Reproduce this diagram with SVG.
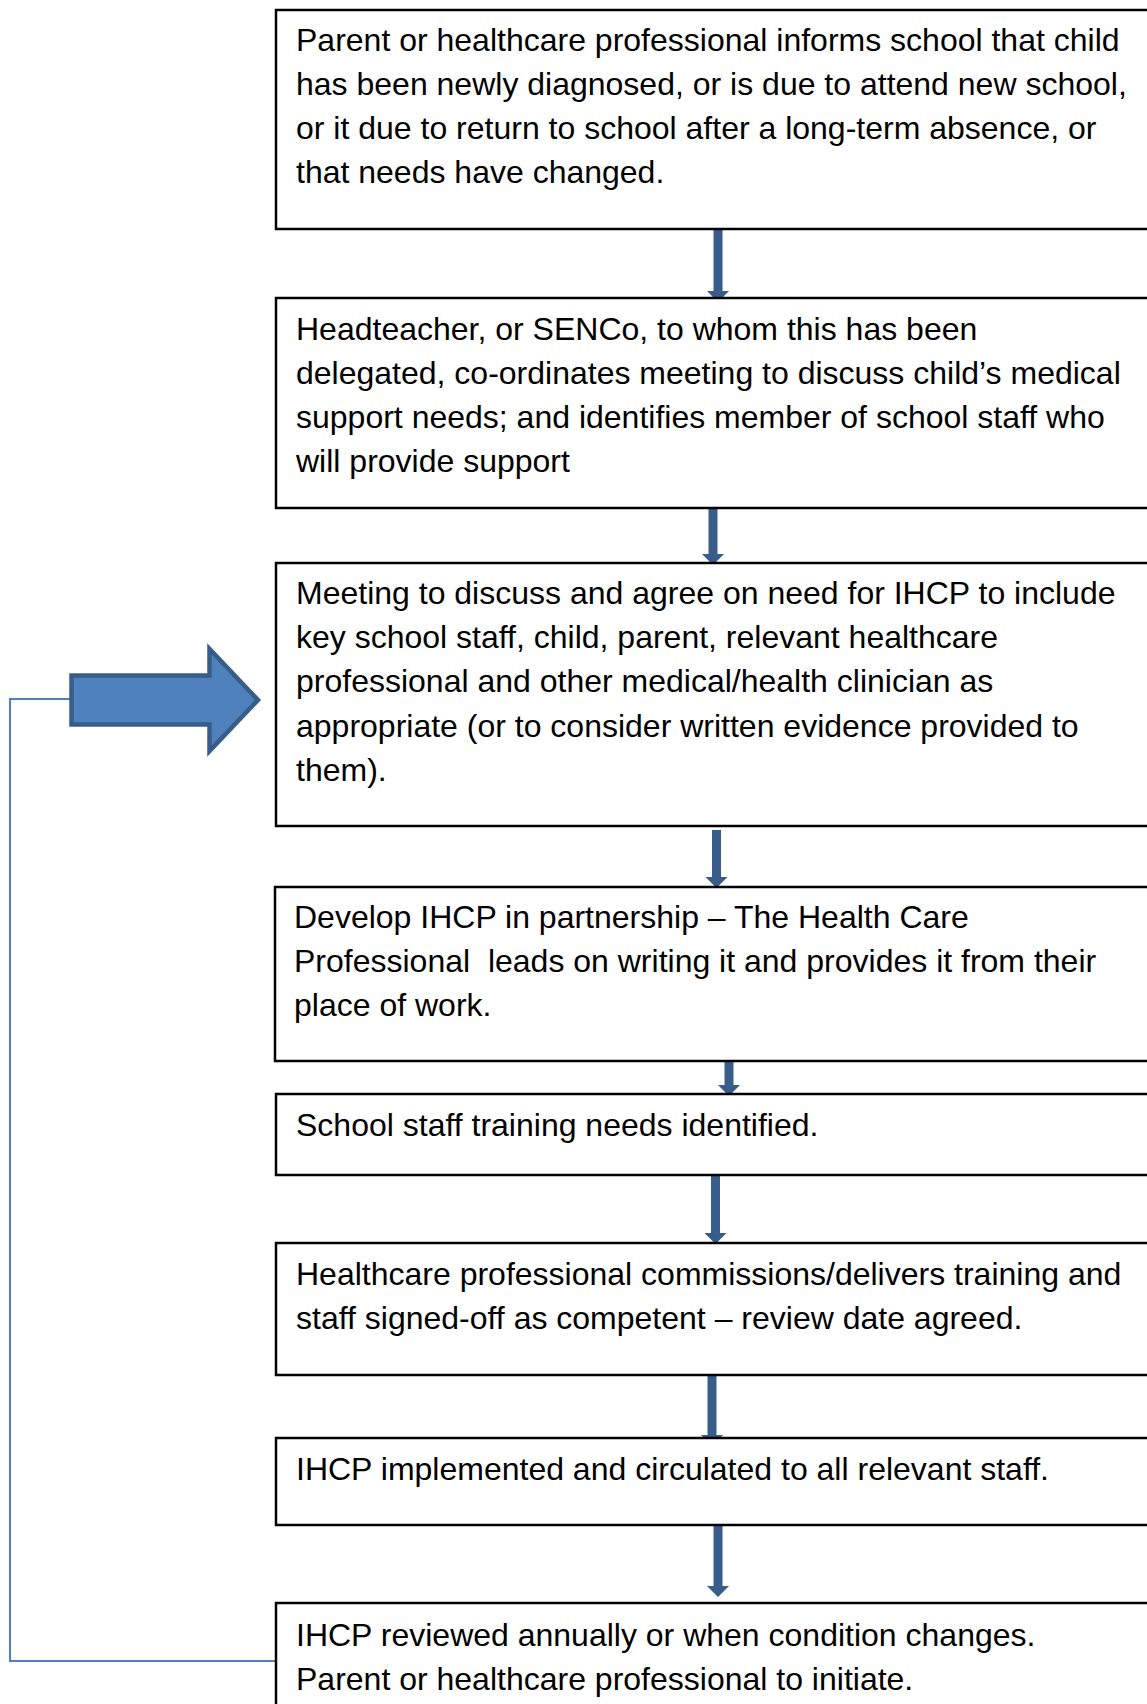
<svg xmlns="http://www.w3.org/2000/svg" width="1147" height="1704" viewBox="0 0 1147 1704">
<style>
.box{fill:#fff;stroke:#000;stroke-width:2.5}
.t{font-family:"Liberation Sans",Arial,sans-serif;font-size:32px;fill:#000;white-space:pre}
.dn{fill:#385D8A}
.big{fill:#4F81BD;stroke:#385D8A;stroke-width:4.5;stroke-linejoin:miter}
.fb{fill:none;stroke:#4F81BD;stroke-width:2}
</style>
<rect width="1147" height="1704" fill="#fff"/>
<g id="connectors">
<polyline class="fb" points="276,1661 10,1661 10,699 71,699"/>
<polygon class="dn" points="713.5,227 722.5,227 722.5,291 729,291 718,302 707,291 713.5,291"/>
<polygon class="dn" points="708.5,508 717.5,508 717.5,554 724,554 713,565 702,554 708.5,554"/>
<polygon class="dn" points="712,830 721,830 721,877 727.5,877 716.5,888 705.5,877 712,877"/>
<polygon class="dn" points="724.5,1059 733.5,1059 733.5,1085 740,1085 729,1096 718,1085 724.5,1085"/>
<polygon class="dn" points="711,1172 720,1172 720,1233 726.5,1233 715.5,1244 704.5,1233 711,1233"/>
<polygon class="dn" points="707.5,1372 716.5,1372 716.5,1435 723,1435 712,1446 701,1435 707.5,1435"/>
<polygon class="dn" points="713.5,1522 722.5,1522 722.5,1586 729,1586 718,1597 707,1586 713.5,1586"/>
<polygon class="big" points="71.5,675.5 209.5,675.5 209.5,649 258,700 209.5,751 209.5,724.5 71.5,724.5"/>
</g>
<g id="n1">
<rect class="box" x="276" y="10" width="890" height="219"/>
<text class="t" x="296" y="51">Parent or healthcare professional informs school that child</text>
<text class="t" x="296" y="95">has been newly diagnosed, or is due to attend new school,</text>
<text class="t" x="296" y="139">or it due to return to school after a long-term absence, or</text>
<text class="t" x="296" y="183">that needs have changed.</text>
</g>
<g id="n2">
<rect class="box" x="276" y="298" width="890" height="210"/>
<text class="t" x="296" y="340">Headteacher, or SENCo, to whom this has been</text>
<text class="t" x="296" y="384">delegated, co-ordinates meeting to discuss child’s medical</text>
<text class="t" x="296" y="428">support needs; and identifies member of school staff who</text>
<text class="t" x="296" y="472">will provide support</text>
</g>
<g id="n3">
<rect class="box" x="276" y="563" width="890" height="263"/>
<text class="t" x="296" y="604">Meeting to discuss and agree on need for IHCP to include</text>
<text class="t" x="296" y="648">key school staff, child, parent, relevant healthcare</text>
<text class="t" x="296" y="692">professional and other medical/health clinician as</text>
<text class="t" x="296" y="737">appropriate (or to consider written evidence provided to</text>
<text class="t" x="296" y="781">them).</text>
</g>
<g id="n4">
<rect class="box" x="275" y="887" width="891" height="174"/>
<text class="t" x="294" y="928">Develop IHCP in partnership – The Health Care</text>
<text class="t" x="294" y="972">Professional  leads on writing it and provides it from their</text>
<text class="t" x="294" y="1016">place of work.</text>
</g>
<g id="n5">
<rect class="box" x="276" y="1094" width="890" height="81"/>
<text class="t" x="296" y="1136">School staff training needs identified.</text>
</g>
<g id="n6">
<rect class="box" x="276" y="1243" width="890" height="132"/>
<text class="t" x="296" y="1285">Healthcare professional commissions/delivers training and</text>
<text class="t" x="296" y="1329">staff signed-off as competent – review date agreed.</text>
</g>
<g id="n7">
<rect class="box" x="276" y="1438" width="890" height="87"/>
<text class="t" x="296" y="1480">IHCP implemented and circulated to all relevant staff.</text>
</g>
<g id="n8">
<rect class="box" x="276" y="1603" width="890" height="130"/>
<text class="t" x="296" y="1646">IHCP reviewed annually or when condition changes.</text>
<text class="t" x="296" y="1690">Parent or healthcare professional to initiate.</text>
</g>
</svg>
